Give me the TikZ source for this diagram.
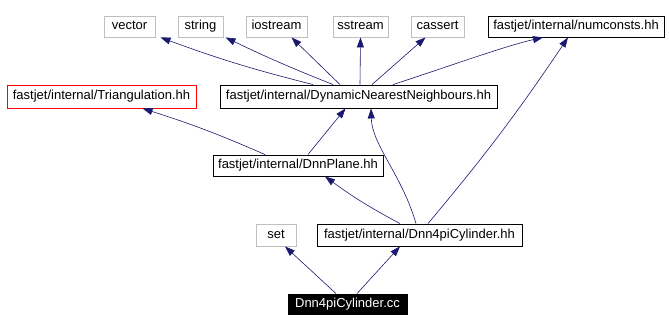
\documentclass[tikz,border=0pt]{standalone}
\usepackage{fontspec}
\setmainfont{Liberation Sans}
\usetikzlibrary{arrows.meta}
\definecolor{edge}{HTML}{191970}
\definecolor{sysgray}{HTML}{BFBFBF}
\definecolor{badred}{HTML}{FF0000}

\begin{document}
\begin{tikzpicture}[
  x=1pt,y=-1pt,
  font=\fontsize{13}{14}\selectfont,
  file/.style={draw,line width=0.9pt,minimum height=21pt,inner sep=0pt,
               text height=9.5pt,text depth=2.8pt,anchor=center},
  sys/.style={file,draw=sysgray},
  bad/.style={file,draw=badred},
  top/.style={file,fill=black,text=white},
  inc/.style={-{Triangle[length=10pt,width=7pt]},draw=edge,line width=0.6pt},
]
\useasboundingbox (0,0) rectangle (669,332);

% ---------------------------------------------------------------- system headers
\node[sys,minimum width=51pt]  (vec)  at (129.5,26.5) {vector};
\node[sys,minimum width=45pt]  (str)  at (200.5,26.5) {string};
\node[sys,minimum width=61pt]  (ios)  at (276.5,26.5) {iostream};
\node[sys,minimum width=55pt]  (sst)  at (360.5,26.5) {sstream};
\node[sys,minimum width=53pt]  (cas)  at (437.5,26.5) {cassert};
\node[file,minimum width=176pt] (num) at (576,26.5)   {fastjet/internal/numconsts.hh};

% ---------------------------------------------------------------- internal headers
\node[bad,minimum width=189pt,minimum height=23pt]  (tri) at (101.5,96.5) {fastjet/internal/Triangulation.hh};
\node[file,minimum width=277pt,minimum height=23pt] (dnn) at (358.5,96.5) {fastjet/internal/DynamicNearestNeighbours.hh};
\node[file,minimum width=170pt] (pln) at (298,165.5) {fastjet/internal/DnnPlane.hh};
\node[sys,minimum width=40pt,minimum height=22pt]   (set) at (276,235) {set};
\node[file,minimum width=205pt,minimum height=22pt] (cyl) at (419.5,235) {fastjet/internal/Dnn4piCylinder.hh};
\node[top,minimum width=119pt,minimum height=20pt]  (cc)  at (347.5,304) {Dnn4piCylinder.cc};

% ---------------------------------------------------------------- includes
\draw[inc] ([xshift=-45.5pt]dnn.north) to[bend left=3] ([xshift=31pt]vec.south);
\draw[inc] ([xshift=-25.5pt]dnn.north) to[bend left=2] ([xshift=25pt]str.south);
\draw[inc] ([xshift=-18.5pt]dnn.north) -- ([xshift=15pt]ios.south);
\draw[inc] ([xshift=1.5pt]dnn.north)   -- (sst.south);
\draw[inc] ([xshift=13.5pt]dnn.north)  -- ([xshift=-12pt]cas.south);
\draw[inc] ([xshift=34.5pt]dnn.north) .. controls (450,66) and (505,46) .. ([xshift=-33pt]num.south);

\draw[inc] ([xshift=10pt]pln.north)  -- ([xshift=-13pt]dnn.south);
\draw[inc] ([xshift=-33pt]pln.north) to[bend right=3] ([xshift=41pt]tri.south);

\draw[inc] ([xshift=-3.5pt]cyl.north) .. controls (402,175) and (372,145) .. ([xshift=12.5pt]dnn.south);
\draw[inc] ([xshift=8.5pt]cyl.north)  to[bend right=3] ([xshift=-8pt]num.south);
\draw[inc] ([xshift=-19.5pt]cyl.north) to[bend left=4] ([xshift=27pt]pln.south);

\draw[inc] ([xshift=-11.5pt]cc.north) -- ([xshift=9pt]set.south);
\draw[inc] ([xshift=9.5pt]cc.north)   -- ([xshift=-19.5pt]cyl.south);
\end{tikzpicture}
\end{document}
